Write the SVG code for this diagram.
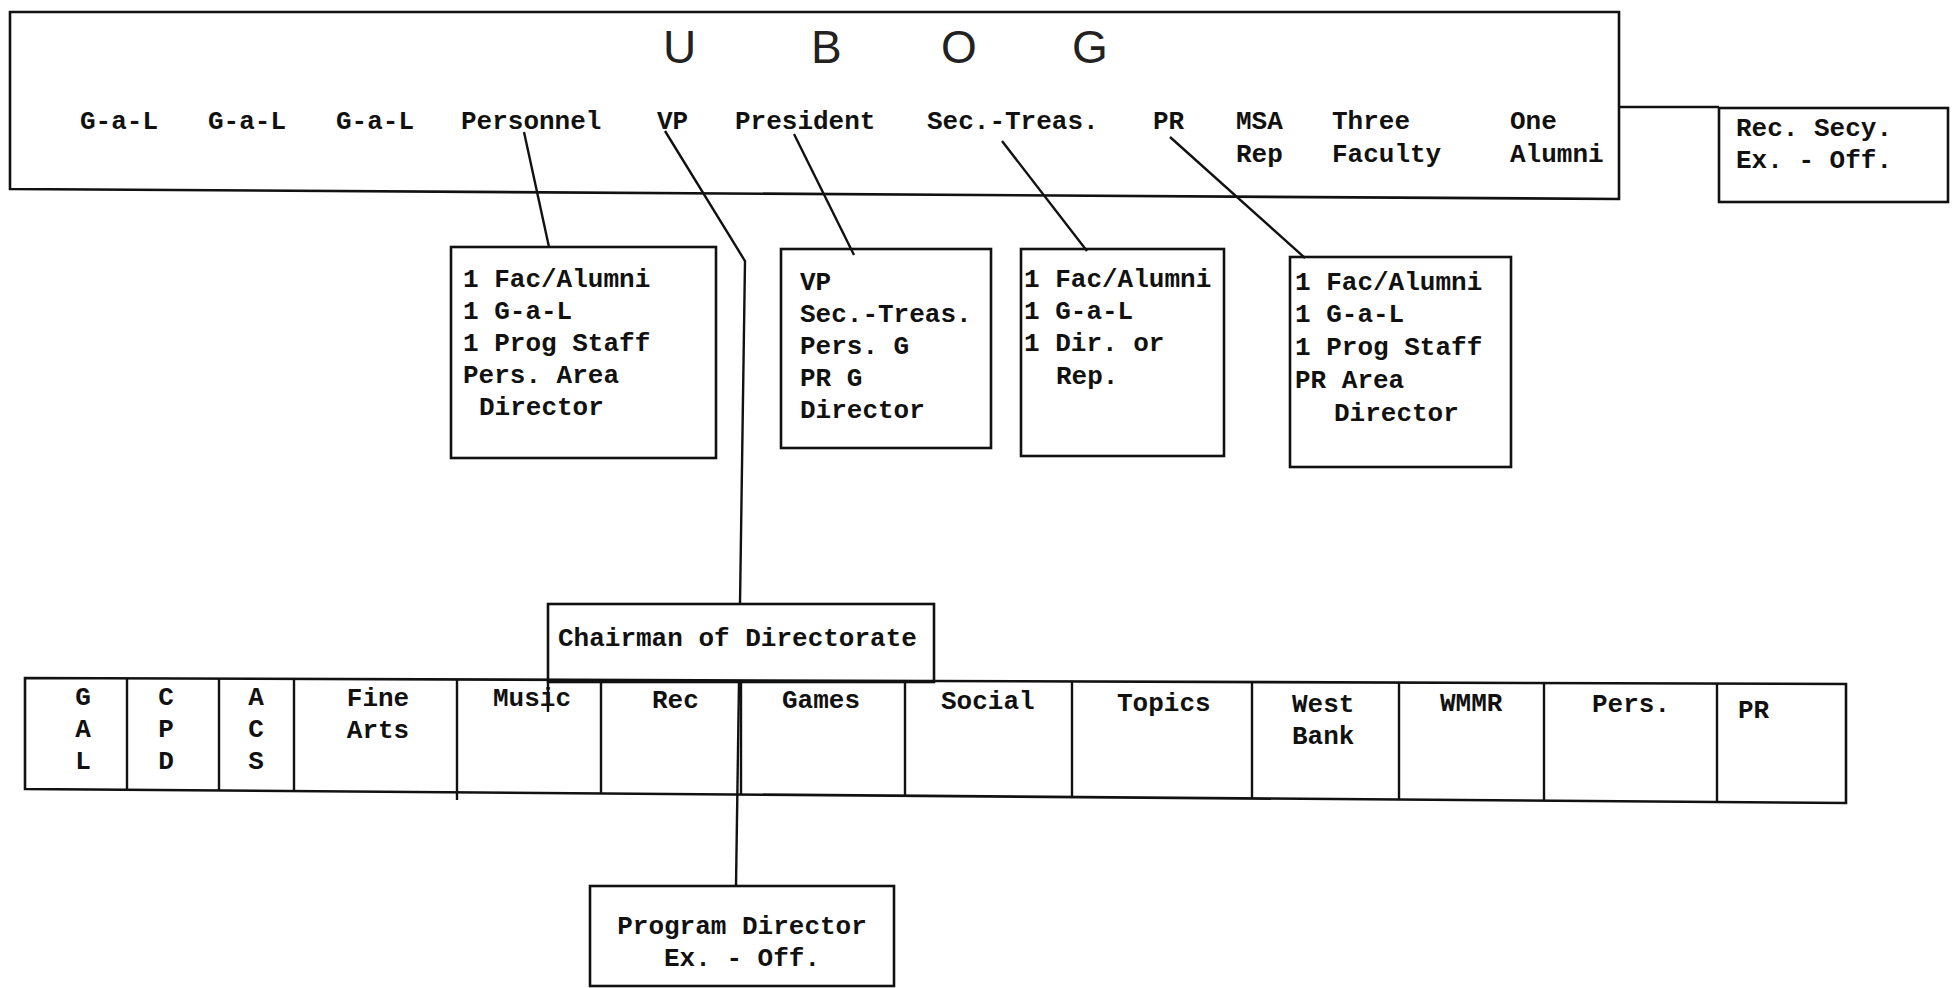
<svg xmlns="http://www.w3.org/2000/svg" width="1952" height="988" viewBox="0 0 1952 988">
<style>
.bx{fill:none;stroke:#111;stroke-width:2.6}
.ln{fill:none;stroke:#111;stroke-width:2.4}
.t{font-family:"Liberation Mono","Courier New",monospace;font-weight:bold;font-size:26px;fill:#111}
.c{text-anchor:middle}
.ti{font-family:"Liberation Sans Narrow","Liberation Sans",sans-serif;font-size:46px;fill:#222}
</style>
<rect width="1952" height="988" fill="#fff"/>
<g id="ubog">
<path class="bx" d="M10,12 L1619,12 L1619,199 L10,189 Z"/>
<text class="ti" x="663" y="63">U</text>
<text class="ti" x="811" y="63">B</text>
<text class="ti" x="941" y="63">O</text>
<text class="ti" x="1072" y="63">G</text>
<text class="t" x="80" y="129">G-a-L</text>
<text class="t" x="208" y="129">G-a-L</text>
<text class="t" x="336" y="129">G-a-L</text>
<text class="t" x="461" y="129">Personnel</text>
<text class="t" x="657" y="129">VP</text>
<text class="t" x="735" y="129">President</text>
<text class="t" x="927" y="129">Sec.-Treas.</text>
<text class="t" x="1153" y="129">PR</text>
<text class="t" x="1236" y="129">MSA</text>
<text class="t" x="1236" y="162">Rep</text>
<text class="t" x="1332" y="129">Three</text>
<text class="t" x="1332" y="162">Faculty</text>
<text class="t" x="1510" y="129">One</text>
<text class="t" x="1510" y="162">Alumni</text>
</g>
<g id="rec-secy">
<rect class="bx" x="1719" y="108" width="229" height="94"/>
<text class="t" x="1736" y="136">Rec. Secy.</text>
<text class="t" x="1736" y="168">Ex. - Off.</text>
</g>
<g id="personnel-box">
<rect class="bx" x="451" y="247" width="265" height="211"/>
<text class="t" x="463" y="287">1 Fac/Alumni</text>
<text class="t" x="463" y="319">1 G-a-L</text>
<text class="t" x="463" y="351">1 Prog Staff</text>
<text class="t" x="463" y="383">Pers. Area</text>
<text class="t" x="479" y="415">Director</text>
</g>
<g id="president-box">
<rect class="bx" x="781" y="249" width="210" height="199"/>
<text class="t" x="800" y="290">VP</text>
<text class="t" x="800" y="322">Sec.-Treas.</text>
<text class="t" x="800" y="354">Pers. G</text>
<text class="t" x="800" y="386">PR G</text>
<text class="t" x="800" y="418">Director</text>
</g>
<g id="sectreas-box">
<rect class="bx" x="1021" y="249" width="203" height="207"/>
<text class="t" x="1024" y="287">1 Fac/Alumni</text>
<text class="t" x="1024" y="319">1 G-a-L</text>
<text class="t" x="1024" y="351">1 Dir. or</text>
<text class="t" x="1056" y="384">Rep.</text>
</g>
<g id="pr-box">
<rect class="bx" x="1290" y="257" width="221" height="210"/>
<text class="t" x="1295" y="290">1 Fac/Alumni</text>
<text class="t" x="1295" y="322">1 G-a-L</text>
<text class="t" x="1295" y="355">1 Prog Staff</text>
<text class="t" x="1295" y="388">PR Area</text>
<text class="t" x="1334" y="421">Director</text>
</g>
<g id="chairman">
<rect class="bx" x="548" y="604" width="386" height="78"/>
<text class="t" x="558" y="646">Chairman of Directorate</text>
</g>
<g id="directorate-table">
<path class="bx" d="M25,678 L1846,684 L1846,803 L25,789 Z"/>
<path class="ln" d="M127,678 V790 M219,679 V791 M294,679 V791 M457,680 V800 M601,680 V793 M741,681 V794 M905,681 V795 M1072,682 V797 M1252,683 V798 M1399,683 V799 M1544,684 V800 M1717,684 V801 M548,682 V712"/>
<text class="t c" x="83" y="705">G</text><text class="t c" x="83" y="737">A</text><text class="t c" x="83" y="769">L</text>
<text class="t c" x="166" y="705">C</text><text class="t c" x="166" y="737">P</text><text class="t c" x="166" y="769">D</text>
<text class="t c" x="256" y="705">A</text><text class="t c" x="256" y="737">C</text><text class="t c" x="256" y="769">S</text>
<text class="t c" x="378" y="706">Fine</text><text class="t c" x="378" y="738">Arts</text>
<text class="t" x="493" y="706">Music</text>
<text class="t" x="652" y="708">Rec</text>
<text class="t" x="782" y="708">Games</text>
<text class="t" x="941" y="709">Social</text>
<text class="t" x="1117" y="711">Topics</text>
<text class="t" x="1292" y="712">West</text>
<text class="t" x="1292" y="744">Bank</text>
<text class="t" x="1440" y="711">WMMR</text>
<text class="t" x="1592" y="712">Pers.</text>
<text class="t" x="1738" y="718">PR</text>
</g>
<g id="program-director">
<rect class="bx" x="590" y="886" width="304" height="100"/>
<text class="t c" x="742" y="934">Program Director</text>
<text class="t c" x="742" y="966">Ex. - Off.</text>
</g>
<g id="connectors">
<path class="ln" d="M1619,107 H1719"/>
<path class="ln" d="M524,132 L549,247"/>
<path class="ln" d="M665,131 L745,261 L740,604"/>
<path class="ln" d="M794,134 L854,255"/>
<path class="ln" d="M1002,141 L1087,251"/>
<path class="ln" d="M1170,137 L1305,258"/>
<path class="ln" d="M739,682 L736,886"/>
</g>
</svg>
